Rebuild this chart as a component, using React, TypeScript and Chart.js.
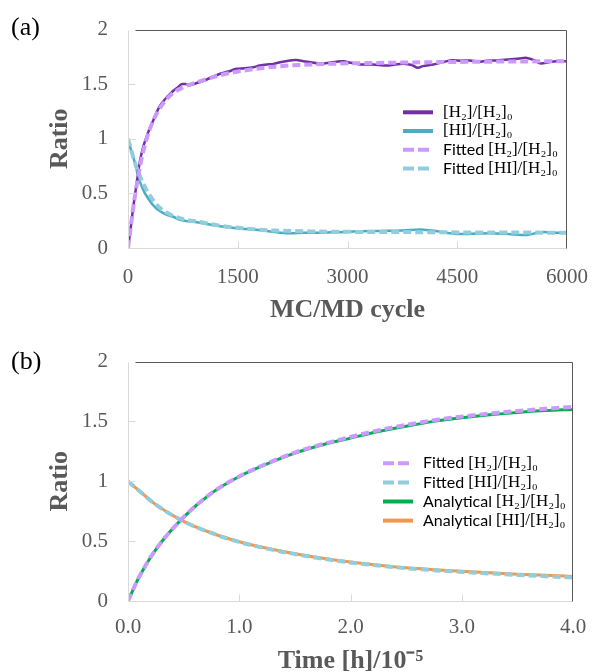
import React, { useEffect, useRef } from 'react';
import { Chart, registerables } from 'chart.js';

Chart.register(...registerables);

// ---------- Panel (a): MC/MD simulation ----------
const cycleH2 = [0, 40, 73, 120, 164, 210, 255, 300, 346, 390, 437, 480, 529, 575, 620, 680, 733, 790, 847, 940, 1030, 1150, 1258, 1370, 1486, 1600, 1713, 1800, 1896, 1990, 2078, 2215, 2300, 2397, 2500, 2625, 2750, 2850, 2944, 3050, 3172, 3350, 3536, 3650, 3764, 3880, 3960, 4030, 4174, 4300, 4402, 4550, 4675, 4800, 4900, 5040, 5200, 5350, 5450, 5550, 5632, 5750, 5850, 6000];
const ratioH2 = [0, 0.2, 0.38, 0.6, 0.8, 0.93, 1.02, 1.1, 1.17, 1.24, 1.3, 1.34, 1.38, 1.41, 1.44, 1.47, 1.5, 1.5, 1.49, 1.51, 1.53, 1.565, 1.595, 1.615, 1.64, 1.645, 1.655, 1.67, 1.68, 1.685, 1.7, 1.717, 1.72, 1.71, 1.7, 1.687, 1.695, 1.705, 1.71, 1.695, 1.68, 1.68, 1.67, 1.68, 1.687, 1.675, 1.65, 1.665, 1.68, 1.7, 1.717, 1.715, 1.717, 1.705, 1.715, 1.717, 1.725, 1.735, 1.74, 1.72, 1.69, 1.7, 1.71, 1.71];

const cycleHI = [0, 40, 73, 110, 141, 190, 232, 290, 346, 410, 483, 550, 620, 700, 802, 900, 1030, 1150, 1258, 1370, 1486, 1600, 1713, 1850, 1941, 2078, 2215, 2400, 2625, 2850, 3080, 3300, 3536, 3750, 3992, 4150, 4265, 4400, 4493, 4700, 4948, 5200, 5450, 5600, 5678, 5850, 6000];
const ratioHI = [1.0, 0.9, 0.83, 0.74, 0.65, 0.56, 0.5, 0.44, 0.39, 0.35, 0.32, 0.3, 0.286, 0.26, 0.247, 0.24, 0.225, 0.21, 0.2, 0.19, 0.18, 0.175, 0.17, 0.16, 0.15, 0.14, 0.134, 0.14, 0.14, 0.145, 0.15, 0.155, 0.158, 0.16, 0.17, 0.16, 0.15, 0.135, 0.128, 0.13, 0.134, 0.128, 0.12, 0.14, 0.146, 0.14, 0.138];

const cycleFit = [0, 100, 200, 300, 400, 500, 600, 750, 1000, 1250, 1500, 1750, 2000, 2500, 3000, 3500, 4000, 4500, 5000, 5500, 6000];
const fittedH2A = [0, 0.5, 0.86, 1.09, 1.24, 1.34, 1.41, 1.47, 1.53, 1.58, 1.615, 1.64, 1.66, 1.68, 1.69, 1.695, 1.7, 1.703, 1.706, 1.708, 1.71];
const fittedHIA = [1.0, 0.77, 0.6, 0.48, 0.39, 0.335, 0.3, 0.265, 0.235, 0.205, 0.185, 0.17, 0.16, 0.152, 0.148, 0.146, 0.145, 0.143, 0.142, 0.141, 0.14];

const xTicksA = [0, 1500, 3000, 4500, 6000];
const xTickLabelsA = ['0', '1500', '3000', '4500', '6000'];

// ---------- Panel (b): kinetics ----------
const timeB = [0, 0.1, 0.25, 0.5, 0.75, 1.0, 1.25, 1.5, 1.75, 2.0, 2.25, 2.5, 2.75, 3.0, 3.25, 3.5, 3.75, 4.0];
const analyticalH2 = [0, 0.2, 0.43, 0.7, 0.9, 1.04, 1.145, 1.235, 1.305, 1.36, 1.415, 1.46, 1.5, 1.53, 1.555, 1.575, 1.59, 1.6];
const fittedH2B = [0, 0.2, 0.43, 0.7, 0.9, 1.04, 1.148, 1.24, 1.31, 1.37, 1.425, 1.47, 1.51, 1.54, 1.565, 1.587, 1.605, 1.62];
const analyticalHI = [1.0, 0.92, 0.805, 0.665, 0.568, 0.495, 0.44, 0.395, 0.357, 0.325, 0.299, 0.277, 0.261, 0.248, 0.236, 0.224, 0.214, 0.205];
const fittedHIB = [1.0, 0.92, 0.805, 0.665, 0.568, 0.493, 0.437, 0.392, 0.354, 0.322, 0.296, 0.274, 0.257, 0.243, 0.23, 0.218, 0.207, 0.197];

const xTicksB = [0, 1, 2, 3, 4];
const xTickLabelsB = ['0.0', '1.0', '2.0', '3.0', '4.0'];
const yTicks = [0, 0.5, 1, 1.5, 2];
const yTickLabels = ['0', '0.5', '1', '1.5', '2'];

const SERIF = "'Liberation Serif', 'Times New Roman', serif";
const FORMULA = "'Liberation Serif', 'DejaVu Serif', serif";
const SANS = "Lato, 'Noto Sans', sans-serif";
const GRAY = '#595959';

const C_H2 = '#7030A0';
const C_HI = '#4BACC6';
const C_FH2 = '#CC99FF';
const C_FHI = '#92CDDC';
const C_AH2 = '#00B050';
const C_AHI = '#F79646';

const pts = (xs: number[], ys: number[]) => xs.map((x, i) => ({ x, y: ys[i] }));

type LegendItem = { color: string; dash: number[]; width: number; prefix: string; formula: string };

const makePlugins = (panel: string, labelY: number, legend: LegendItem[], lx: number, ly: number, lgap: number) => ({
  id: 'custom' + panel,
  afterDatasetsDraw(chart: any) {
    const { ctx, chartArea } = chart;
    const { left, top, right, bottom } = chartArea;
    const L = Math.round(left) + 0.5;
    const B = Math.round(bottom) + 0.5;
    const T = Math.round(top) + 0.5;
    const R = Math.round(right) - 0.5;
    ctx.save();
    ctx.setLineDash([]);
    ctx.lineWidth = 1;
    ctx.strokeStyle = '#D9D9D9';
    ctx.beginPath();
    ctx.moveTo(L, T);
    ctx.lineTo(L, B);
    ctx.lineTo(R, B);
    const xs = chart.scales.x;
    const ys = chart.scales.y;
    xs.ticks.forEach((t: any, i: number) => {
      if (i === 0 || i === xs.ticks.length - 1) return;
      const px = Math.round(xs.getPixelForValue(t.value)) + 0.5;
      ctx.moveTo(px, B);
      ctx.lineTo(px, B - 7);
    });
    ys.ticks.forEach((t: any, i: number) => {
      if (i === 0 || i === ys.ticks.length - 1) return;
      const py = Math.round(ys.getPixelForValue(t.value)) + 0.5;
      ctx.moveTo(L, py);
      ctx.lineTo(L + 7, py);
    });
    ctx.stroke();
    ctx.strokeStyle = GRAY;
    ctx.beginPath();
    ctx.moveTo(L + 7, T);
    ctx.lineTo(R, T);
    ctx.lineTo(R, B);
    ctx.stroke();

    // legend
    legend.forEach((it, i) => {
      const y = ly + i * lgap;
      ctx.strokeStyle = it.color;
      ctx.lineWidth = it.width;
      ctx.setLineDash(it.dash);
      ctx.beginPath();
      ctx.moveTo(lx, y);
      ctx.lineTo(lx + 30, y);
      ctx.stroke();
      ctx.setLineDash([]);
      ctx.fillStyle = '#000000';
      ctx.textBaseline = 'middle';
      ctx.textAlign = 'left';
      let tx = lx + 40;
      if (it.prefix) {
        ctx.font = `16px ${SANS}`;
        ctx.fillText(it.prefix, tx, y);
        tx += ctx.measureText(it.prefix).width;
      }
      ctx.font = `17px ${FORMULA}`;
      ctx.fillText(it.formula, tx, y);
    });

    // panel label
    ctx.fillStyle = '#000000';
    ctx.font = `26px ${SERIF}`;
    ctx.textBaseline = 'middle';
    ctx.textAlign = 'left';
    ctx.fillText(panel, 11, labelY);
    ctx.restore();
  },
});

const tickFont = { family: SERIF, size: 21 };
const titleFont = { family: SERIF, size: 26, weight: 'bold' as const };

const fitX = (h: number) => (s: any) => { s.height = h; s.paddingLeft = 0; s.paddingRight = 0; };
const fitY = (s: any) => { s.width = 128; s.paddingTop = 0; s.paddingBottom = 0; };

function makeConfigA(): any {
  const legend: LegendItem[] = [
    { color: C_H2, dash: [], width: 4, prefix: '', formula: '[H₂]/[H₂]₀' },
    { color: C_HI, dash: [], width: 4, prefix: '', formula: '[HI]/[H₂]₀' },
    { color: C_FH2, dash: [11, 4], width: 4, prefix: 'Fitted ', formula: '[H₂]/[H₂]₀' },
    { color: C_FHI, dash: [11, 4], width: 4, prefix: 'Fitted ', formula: '[HI]/[H₂]₀' },
  ];
  return {
    type: 'line',
    data: {
      datasets: [
        { label: 'Fitted [H₂]/[H₂]₀', data: pts(cycleFit, fittedH2A), borderColor: C_FH2, borderWidth: 4, borderDash: [8, 4], pointRadius: 0, cubicInterpolationMode: 'monotone', order: 0 },
        { label: 'Fitted [HI]/[H₂]₀', data: pts(cycleFit, fittedHIA), borderColor: C_FHI, borderWidth: 4, borderDash: [8, 4], pointRadius: 0, cubicInterpolationMode: 'monotone', order: 0 },
        { label: '[H₂]/[H₂]₀', data: pts(cycleH2, ratioH2), borderColor: C_H2, borderWidth: 2.5, pointRadius: 0, tension: 0.3, order: 1 },
        { label: '[HI]/[H₂]₀', data: pts(cycleHI, ratioHI), borderColor: C_HI, borderWidth: 2.5, pointRadius: 0, tension: 0.3, order: 1 },
      ],
    },
    options: {
      animation: false,
      responsive: false,
      maintainAspectRatio: false,
      layout: { padding: { left: 0, top: 29.5, right: 25, bottom: 0 } },
      plugins: { legend: { display: false }, tooltip: { enabled: false } },
      scales: {
        x: {
          type: 'linear', min: 0, max: 6000,
          afterBuildTicks: (s: any) => { s.ticks = xTicksA.map((v) => ({ value: v })); },
          grid: { display: false, drawTicks: false },
          border: { display: false },
          ticks: { padding: 17, color: GRAY, font: tickFont, maxRotation: 0, autoSkip: false, callback: (_v: any, i: number) => xTickLabelsA[i] },
          title: { display: true, text: 'MC/MD cycle', color: GRAY, font: titleFont, padding: { top: 0, bottom: 4 } },
          afterFit: fitX(82),
        },
        y: {
          type: 'linear', min: 0, max: 2,
          afterBuildTicks: (s: any) => { s.ticks = yTicks.map((v) => ({ value: v })); },
          grid: { display: false, drawTicks: false },
          border: { display: false },
          ticks: { padding: 20, color: GRAY, font: tickFont, callback: (_v: any, i: number) => yTickLabels[i] },
          title: { display: true, text: 'Ratio', color: GRAY, font: titleFont, padding: { top: 45, bottom: 0 } },
          afterFit: fitY,
        },
      },
    },
    plugins: [makePlugins('(a)', 28, legend, 403, 112.3, 18.7)],
  };
}

function makeConfigB(): any {
  const legend: LegendItem[] = [
    { color: C_FH2, dash: [11, 4], width: 4, prefix: 'Fitted ', formula: '[H₂]/[H₂]₀' },
    { color: C_FHI, dash: [11, 4], width: 4, prefix: 'Fitted ', formula: '[HI]/[H₂]₀' },
    { color: C_AH2, dash: [], width: 4, prefix: 'Analytical ', formula: '[H₂]/[H₂]₀' },
    { color: C_AHI, dash: [], width: 4, prefix: 'Analytical ', formula: '[HI]/[H₂]₀' },
  ];
  return {
    type: 'line',
    data: {
      datasets: [
        { label: 'Fitted [H₂]/[H₂]₀', data: pts(timeB, fittedH2B), borderColor: C_FH2, borderWidth: 4, borderDash: [8, 4], pointRadius: 0, cubicInterpolationMode: 'monotone', order: 0 },
        { label: 'Fitted [HI]/[H₂]₀', data: pts(timeB, fittedHIB), borderColor: C_FHI, borderWidth: 4, borderDash: [8, 4], pointRadius: 0, cubicInterpolationMode: 'monotone', order: 0 },
        { label: 'Analytical [H₂]/[H₂]₀', data: pts(timeB, analyticalH2), borderColor: C_AH2, borderWidth: 3, pointRadius: 0, cubicInterpolationMode: 'monotone', order: 1 },
        { label: 'Analytical [HI]/[H₂]₀', data: pts(timeB, analyticalHI), borderColor: C_AHI, borderWidth: 3, pointRadius: 0, cubicInterpolationMode: 'monotone', order: 1 },
      ],
    },
    options: {
      animation: false,
      responsive: false,
      maintainAspectRatio: false,
      layout: { padding: { left: 0, top: 31.5, right: 19, bottom: 0 } },
      plugins: { legend: { display: false }, tooltip: { enabled: false } },
      scales: {
        x: {
          type: 'linear', min: 0, max: 4,
          afterBuildTicks: (s: any) => { s.ticks = xTicksB.map((v) => ({ value: v })); },
          grid: { display: false, drawTicks: false },
          border: { display: false },
          ticks: { padding: 14, color: GRAY, font: tickFont, maxRotation: 0, autoSkip: false, callback: (_v: any, i: number) => xTickLabelsB[i] },
          title: { display: true, text: 'Time [h]/10⁻⁵', color: GRAY, font: { ...titleFont, lineHeight: 0.8 }, padding: { top: 0, bottom: 0 } },
          afterFit: fitX(71),
        },
        y: {
          type: 'linear', min: 0, max: 2,
          afterBuildTicks: (s: any) => { s.ticks = yTicks.map((v) => ({ value: v })); },
          grid: { display: false, drawTicks: false },
          border: { display: false },
          ticks: { padding: 20, color: GRAY, font: tickFont, callback: (_v: any, i: number) => yTickLabels[i] },
          title: { display: true, text: 'Ratio', color: GRAY, font: titleFont, padding: { top: 45, bottom: 0 } },
          afterFit: fitY,
        },
      },
    },
    plugins: [makePlugins('(b)', 32, legend, 383, 133.3, 19.1)],
  };
}

function ChartCanvas({ make, width, height, top }: { make: () => any; width: number; height: number; top: number }) {
  const ref = useRef<HTMLCanvasElement | null>(null);
  useEffect(() => {
    if (!ref.current) return;
    const chart = new Chart(ref.current, make());
    return () => chart.destroy();
  }, [make]);
  return (
    <canvas
      ref={ref}
      width={width}
      height={height}
      style={{ position: 'absolute', left: 0, top, width, height, display: 'block' }}
    />
  );
}

export default function App() {
  return (
    <div style={{ position: 'absolute', left: 0, top: 0, width: 592, height: 672, background: '#ffffff', overflow: 'hidden' }}>
      <ChartCanvas make={makeConfigA} width={592} height={330} top={0} />
      <ChartCanvas make={makeConfigB} width={592} height={342} top={330} />
    </div>
  );
}
